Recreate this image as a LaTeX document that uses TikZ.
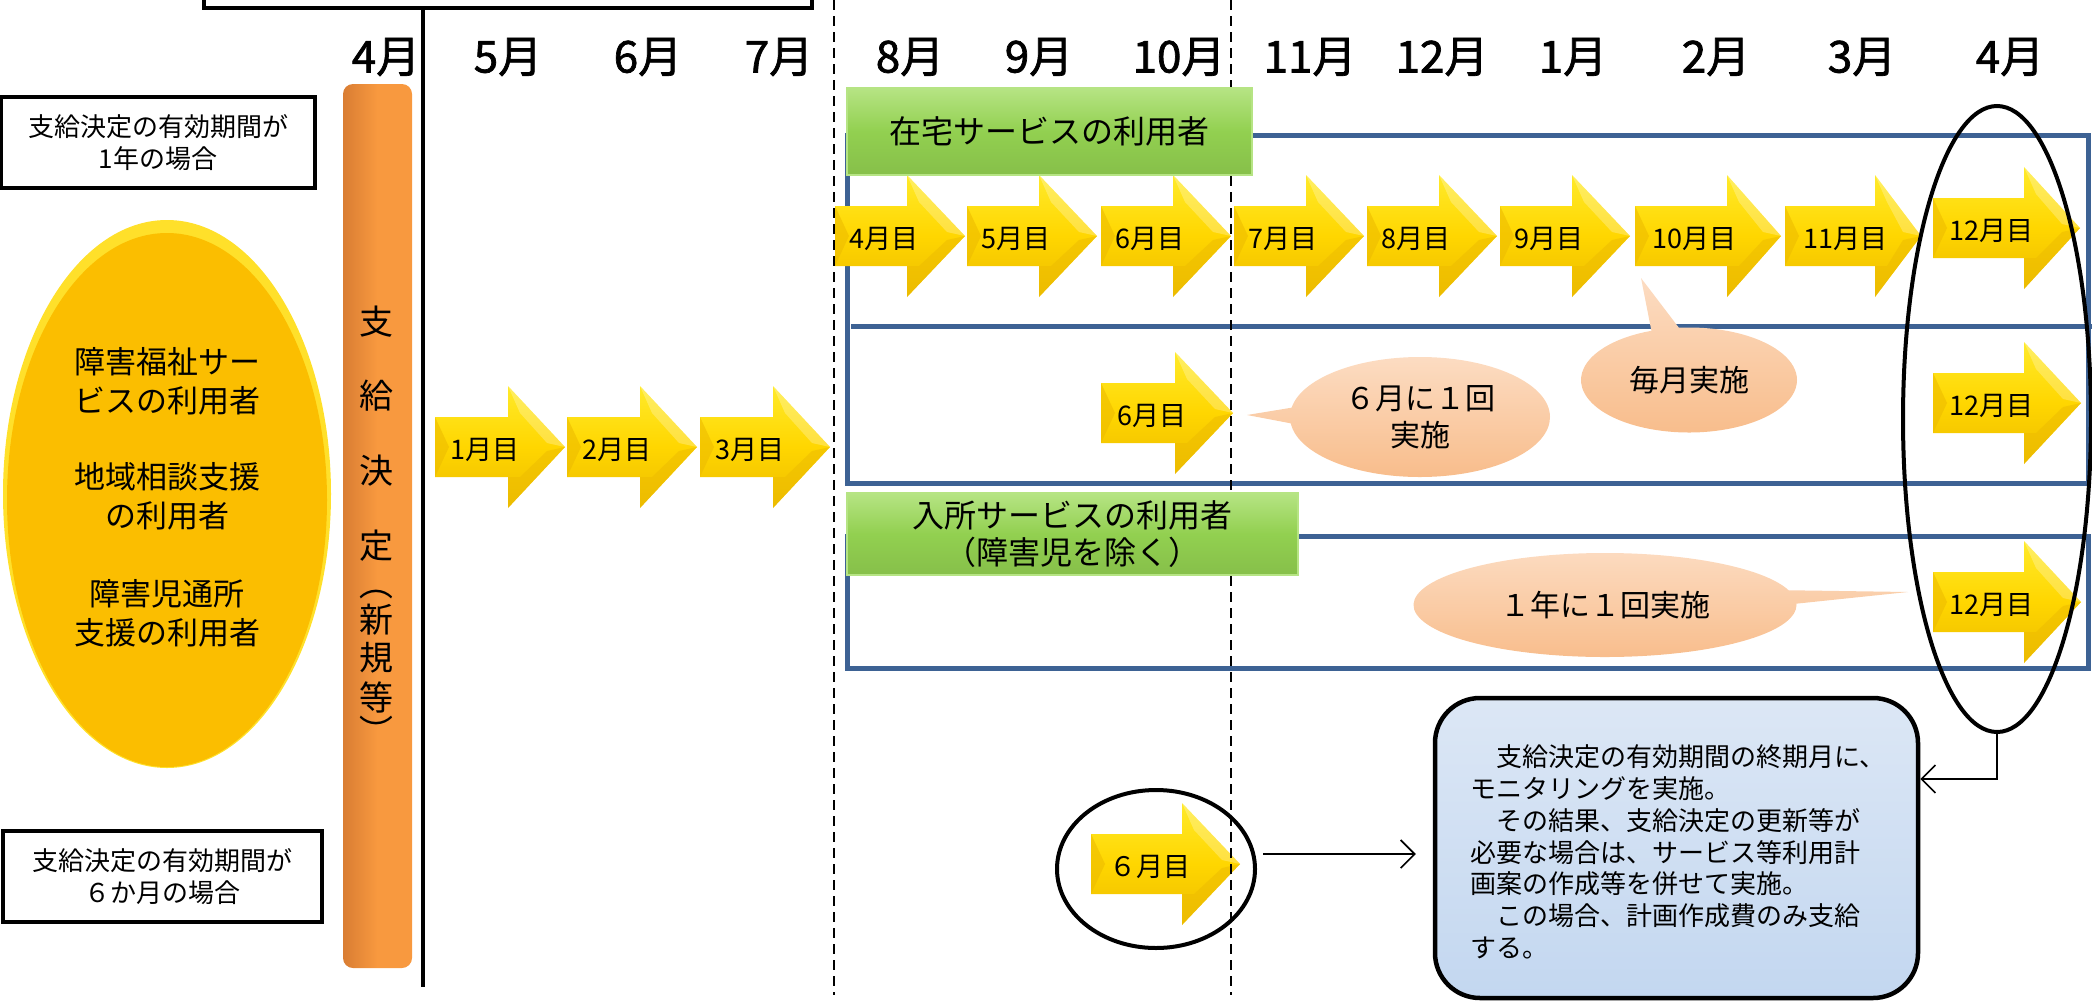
\documentclass[tikz,border=0pt]{standalone}
\usepackage{fontspec}
\setmainfont{Noto Sans CJK JP}[AutoFakeBold=1.6]
\usetikzlibrary{shapes.geometric,shapes.callouts,arrows.meta,calc}

\definecolor{arrY}{HTML}{FFD600}
\definecolor{arrYl}{HTML}{FFEA2A}
\definecolor{arrYd}{HTML}{EDBC00}
\definecolor{orangeB}{HTML}{F8993F}
\definecolor{orangeD}{HTML}{D97D33}
\definecolor{goldE}{HTML}{FBBE00}
\definecolor{goldL}{HTML}{FFE02A}
\definecolor{greenB}{HTML}{92D050}
\definecolor{greenL}{HTML}{B6E484}
\definecolor{blueL}{HTML}{3D6294}
\definecolor{peach}{HTML}{F8BC8A}
\definecolor{peachL}{HTML}{FCDCC2}
\definecolor{boxBlue}{HTML}{C3D7F0}
\definecolor{boxBlueL}{HTML}{DCE7F5}

\tikzset{
  monthlbl/.style={font=\fontsize{44}{48}\selectfont\bfseries, inner sep=0},
  arrtext/.style={font=\fontsize{27}{29}\selectfont, inner sep=0},
  sidebox/.style={draw=black, line width=4, fill=white, align=center, inner sep=0,
    font=\fontsize{26}{32}\selectfont},
  greenbox/.style={top color=greenL, bottom color=greenB!92!black, middle color=greenB,
    draw=greenL, line width=1.5, inner sep=0, align=center, font=\fontsize{32}{37}\selectfont},
  blueline/.style={draw=blueL, line width=5},
  dashline/.style={dash pattern=on 10pt off 6pt, line width=1.6},
  ring/.style={ellipse, draw=black, line width=4, inner sep=0},
  bubble/.style={ellipse callout, top color=peachL, bottom color=peach, draw=none, inner sep=0,
    align=center, font=\fontsize{30}{37}\selectfont},
  conn/.style={line width=1.6, -{Straight Barb[length=14pt,width=28pt,line width=1.6pt]}},
  bartext/.style={font=\fontsize{34}{36}\selectfont, inner sep=0},
  elltext/.style={align=center, inner sep=0, font=\fontsize{31}{39}\selectfont},
}

% #1 name, #2 x start, #3 y centre, #4 body length, #5 total length, #6 text dx, #7 text
\newcommand{\yarr}[7]{%
  \shade[top color=arrYl, bottom color=arrYd, middle color=arrY]
    (#2,#3-30) -- (#2+#4,#3-30) -- (#2+#4,#3-61) -- (#2+#5,#3) -- (#2+#4,#3+61)
    -- (#2+#4,#3+30) -- (#2,#3+30) -- cycle;
  \fill[arrYd, opacity=.6] (#2,#3-30) -- (#2+14,#3) -- (#2,#3+30) -- cycle;
  \fill[arrYd, opacity=.55] (#2+#4,#3+30) -- (#2+#4,#3+61) -- (#2+#5,#3) -- (#2+#5-18,#3+4) -- (#2+#4+12,#3+30) -- cycle;
  \fill[white, opacity=.25] (#2+#4,#3-61) -- (#2+#5,#3) -- (#2+#5-18,#3-4) -- (#2+#4+12,#3-34) -- cycle;
  \node[arrtext] (#1) at (#2+#6,#3+3) {#7};
}

\begin{document}
\begin{tikzpicture}[x=1pt,y=-1pt]
\useasboundingbox (0,0) rectangle (2092,1001);

% top box (cut by page) and vertical line
\draw[line width=4] (204,-20) rectangle (812,8);
\draw[line width=4.5] (423,8) -- (423,987);

% month labels
\foreach \x/\t/\n in {386/4月/m4, 508/5月/m5, 648/6月/m6, 779/7月/m7, 910/8月/m8,
  1039/9月/m9, 1179/10月/m10, 1310/11月/m11, 1442/12月/m12, 1573/1月/m1,
  1716/2月/m2, 1862/3月/m3, 2010/4月/m4b}
  \node[monthlbl] (\n) at (\x,57) {\t};

% side boxes
\node[sidebox, minimum width=314, minimum height=91] (box1) at (158,142.5)
  {支給決定の有効期間が\\1年の場合};
\node[sidebox, minimum width=319, minimum height=91] (box2) at (162.5,876.5)
  {支給決定の有効期間が\\６か月の場合};

% big yellow ellipse
\node[ellipse, fill=goldL, minimum width=328, minimum height=548, inner sep=0] (users) at (167,494) {};
\node[ellipse, fill=goldE, minimum width=320, minimum height=534, inner sep=0] (usersin) at (167,500) {};
\node[elltext] (u1) at (167,381.5) {障害福祉サー\\ビスの利用者};
\node[elltext] (u2) at (167,496.5) {地域相談支援\\の利用者};
\node[elltext] (u3) at (167,613) {障害児通所\\支援の利用者};

% orange bar
\node[rounded corners=10, left color=orangeD, right color=orangeB, middle color=orangeB,
  minimum width=69, minimum height=884, inner sep=0] (bar) at (377.5,526) {};
\foreach \y/\c/\n in {322/支/v1, 396/給/v2, 471/決/v3, 546/定/v4,
  620/新/v6, 658/規/v7, 697/等/v8}
  \node[bartext] (\n) at (376,\y) {\c};
\node[bartext, rotate=-90] (v5) at (376,583) {（};
\node[bartext, rotate=-90] (v9) at (376,731) {）};

% blue frames
\draw[blueline] (847,135) rectangle (2088,483);
\draw[blueline] (851,326) -- (2092,326);
\draw[blueline] (847,536) rectangle (2088,668);

% arrows before the new year
\yarr{a1}{435}{447}{73}{130}{50}{1月目}
\yarr{a2}{567}{447}{73}{130}{50}{2月目}
\yarr{a3}{700}{447}{73}{130}{50}{3月目}

% row 1
\yarr{r4}{835}{236}{72}{130}{49}{4月目}
\yarr{r5}{967}{236}{72}{130}{49}{5月目}
\yarr{r6}{1101}{236}{72}{130}{49}{6月目}
\yarr{r7}{1234}{236}{72}{130}{49}{7月目}
\yarr{r8}{1367}{236}{72}{130}{49}{8月目}
\yarr{r9}{1500}{236}{72}{130}{49}{9月目}
\yarr{r10}{1635}{236}{92}{146}{59}{10月目}
\yarr{r11}{1785}{236}{90}{136}{60}{11月目}
\yarr{r12}{1933}{228}{91}{147}{58}{12月目}

% row 2
\yarr{s6}{1101}{413}{74}{132}{51}{6月目}
\yarr{s12}{1933}{403}{91}{148}{58}{12月目}

% row 3
\yarr{t12}{1933}{602}{91}{148}{58}{12月目}

% bottom
\yarr{b6}{1091}{864}{91}{149}{59}{６月目}

% dashed month separators
\draw[dashline] (834,0) -- (834,995);
\draw[dashline] (1231,0) -- (1231,995);

% green headers
\node[greenbox, minimum width=405, minimum height=87] (g1) at (1049.5,131.5) {在宅サービスの利用者};
\node[greenbox, minimum width=451, minimum height=82] (g2) at (1072.5,534) {入所サービスの利用者\\（障害児を除く）};

% speech bubbles
\node[bubble, minimum width=260, minimum height=120, callout absolute pointer={(1247,415)}]
  (bub1) at (1420,417) {６月に１回\\実施};
\node[bubble, minimum width=216, minimum height=105, callout absolute pointer={(1641,278)}]
  (bub2) at (1689,380) {毎月実施};
\node[bubble, minimum width=383, minimum height=104, callout absolute pointer={(1908,592)}]
  (bub3) at (1605,605) {１年に１回実施};

% rings
\node[ring, minimum width=188, minimum height=626] (bigring) at (1997,419) {};
\node[ring, minimum width=198, minimum height=158] (ring6) at (1156,869) {};

% explanation box
\node[draw=black, line width=4.5, rounded corners=45, top color=boxBlueL, bottom color=boxBlue,
  minimum width=483, minimum height=300, inner sep=0] (mbox) at (1676.5,848) {};
\node[anchor=west, align=left, inner sep=0, font=\fontsize{26}{31.8}\selectfont] (mtext) at (1470,852)
  {　支給決定の有効期間の終期月に、\\モニタリングを実施。\\　その結果、支給決定の更新等が\\必要な場合は、サービス等利用計\\画案の作成等を併せて実施。\\　この場合、計画作成費のみ支給\\する。};

% connectors
\draw[conn] ($(ring6.east)+(6,-15)$) -- ($(mbox.west)+(-17,6)$);
\draw[conn] (bigring.south) |- ($(mbox.east)+(0,-69)$);

\end{tikzpicture}
\end{document}
